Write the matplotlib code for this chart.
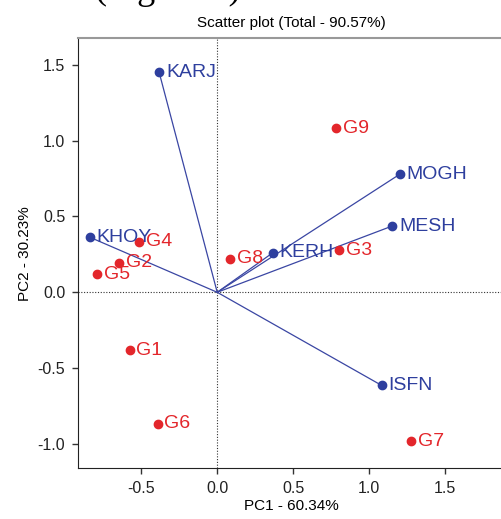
import matplotlib
matplotlib.use('Agg')
import matplotlib.pyplot as plt

plt.rcParams['font.family'] = ['Liberation Sans', 'DejaVu Sans']

# genotypes (red points)
geno_names = ['G1', 'G2', 'G3', 'G4', 'G5', 'G6', 'G7', 'G8', 'G9']
geno_x = [-0.578, -0.646, 0.803, -0.515, -0.791, -0.393, 1.280, 0.084, 0.783]
geno_y = [-0.381, 0.195, 0.277, 0.334, 0.119, -0.867, -0.981, 0.220, 1.082]

# environments (blue vectors)
env_names = ['KARJ', 'KHOY', 'KERH', 'MOGH', 'MESH', 'ISFN']
env_x = [-0.383, -0.840, 0.367, 1.203, 1.154, 1.084]
env_y = [1.451, 0.363, 0.261, 0.778, 0.437, -0.614]

xticks = [-0.5, 0.0, 0.5, 1.0, 1.5]
yticks = [-1.0, -0.5, 0.0, 0.5, 1.0, 1.5]

red = '#e3262b'
blue = '#2e3f9e'

fig = plt.figure(figsize=(5.02, 5.19), dpi=100)
ax = fig.add_axes([0.1548, 0.0977, 0.853, 0.829])

ax.axhline(0, color='#333333', lw=0.8, ls=(0, (1, 1.5)), zorder=1)
ax.axvline(0, color='#333333', lw=0.8, ls=(0, (1, 1.5)), zorder=1)

for x, y in zip(env_x, env_y):
    ax.plot([0, x], [0, y], color='#3a46a3', lw=0.9, zorder=2)
ax.plot(env_x, env_y, 'o', color=blue, ms=6, zorder=3)
for n, x, y in zip(env_names, env_x, env_y):
    ax.text(x + 0.045, y, n, color=blue, fontsize=14, va='center', ha='left', zorder=4)

ax.plot(geno_x, geno_y, 'o', color=red, ms=6, zorder=3)
for n, x, y in zip(geno_names, geno_x, geno_y):
    ax.text(x + 0.045, y, n, color=red, fontsize=14, va='center', ha='left', zorder=4)

ax.set_xlim(-0.92, 1.904)
ax.set_ylim(-1.161, 1.677)
ax.set_xticks(xticks)
ax.set_yticks(yticks)
ax.set_xticklabels(['%.1f' % t for t in xticks])
ax.set_yticklabels(['%.1f' % t for t in yticks])
ax.tick_params(labelsize=11.5, length=4, width=1, color='#333333', labelcolor='#222222', pad=5)

ax.spines['left'].set_color('#222222')
ax.spines['bottom'].set_color('#222222')
ax.spines['top'].set_color('#999999')
ax.spines['top'].set_linewidth(1.5)
ax.spines['right'].set_visible(False)

ax.set_xlabel('PC1 - 60.34%', fontsize=11, labelpad=2)
ax.set_ylabel('PC2 - 30.23%', fontsize=11, labelpad=4)
ax.set_title('Scatter plot (Total - 90.57%)', fontsize=11, pad=8)

# caption of the page above, cut off at the top
fig.text(0.19, 1.002, '(Figure 2)', fontsize=26, family='Liberation Serif', va='baseline', ha='left')

plt.savefig('out.png', dpi=100)
